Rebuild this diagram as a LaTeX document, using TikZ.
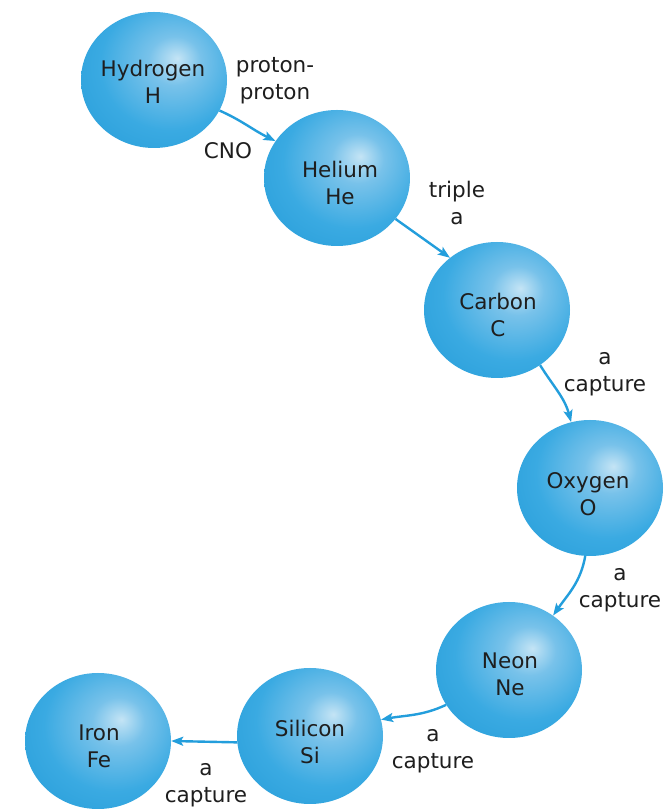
\documentclass[tikz,border=0pt]{standalone}
\usepackage{fontspec}
\setmainfont{DejaVu Sans}
\usetikzlibrary{arrows.meta,shapes.geometric}
\definecolor{ballhl}{RGB}{196,228,245}
\definecolor{ballhlmid}{RGB}{120,194,234}
\definecolor{ballmid}{RGB}{58,170,226}
\definecolor{balledge}{RGB}{28,150,212}
\definecolor{arrowblue}{RGB}{35,158,220}
\definecolor{txt}{RGB}{30,30,30}
\pgfdeclareradialshading{sphere}{\pgfpoint{8bp}{8bp}}{color(0bp)=(ballhl); color(9bp)=(ballhlmid); color(24bp)=(ballmid); color(48bp)=(balledge); color(75bp)=(balledge)}
\begin{document}
\begin{tikzpicture}[x=1pt,y=1pt,
  ball/.style={ellipse, minimum width=146pt, minimum height=136pt, inner sep=0pt, shading=sphere},
  lbl/.style={font=\fontsize{21.5}{27}\selectfont, text=txt, align=center, inner sep=0pt},
  arr/.style={draw=arrowblue, line width=2.4pt, -{Stealth[length=12pt,width=9pt,inset=2.5pt]}}]
\useasboundingbox (0,0) rectangle (671,809);
\fill[white] (0,0) rectangle (671,809);
% spheres
\node[ball] (H)  at (154,729) {};
\node[ball] (He) at (337,631) {};
\node[ball] (C)  at (497,499) {};
\node[ball] (O)  at (590,321) {};
\node[ball] (Ne) at (509,139) {};
\node[ball] (Si) at (310,73) {};
\node[ball] (Fe) at (98,68) {};
% element names
\node[lbl] (Ht)  at (153,724) {Hydrogen\strut\\H\strut};
\node[lbl] (Het) at (340,623) {Helium\strut\\He\strut};
\node[lbl] (Ct)  at (498,491) {Carbon\strut\\C\strut};
\node[lbl] (Ot)  at (588,312) {Oxygen\strut\\O\strut};
\node[lbl] (Net) at (510,132) {Neon\strut\\Ne\strut};
\node[lbl] (Sit) at (310,64) {Silicon\strut\\Si\strut};
\node[lbl] (Fet) at (99,60) {Iron\strut\\Fe\strut};
% process labels
\node[lbl] (pp)  at (275,728) {proton-\strut\\proton\strut};
\node[lbl, anchor=base] (cno) at (228,650) {CNO};
\node[lbl] (tri) at (457,603) {triple\strut\\a\strut};
\node[lbl] (ac1) at (605,436) {a\strut\\capture\strut};
\node[lbl] (ac2) at (620,220) {a\strut\\capture\strut};
\node[lbl] (ac3) at (433,59) {a\strut\\capture\strut};
\node[lbl] (ac4) at (206,25) {a\strut\\capture\strut};
% arrows
\draw[arr] (H.-25) to[out=-24,in=154] (He.149);
\draw[arr] (He.-35) -- (C.132);
\draw[arr] (C.-52) to[out=-58,in=105] (O.106);
\draw[arr] (O.-94) to[out=-100,in=55] (Ne.51);
\draw[arr] (Ne.209) to[out=205,in=10] (Si.13);
\draw[arr] (Si.185) -- (Fe.0);
\end{tikzpicture}
\end{document}
